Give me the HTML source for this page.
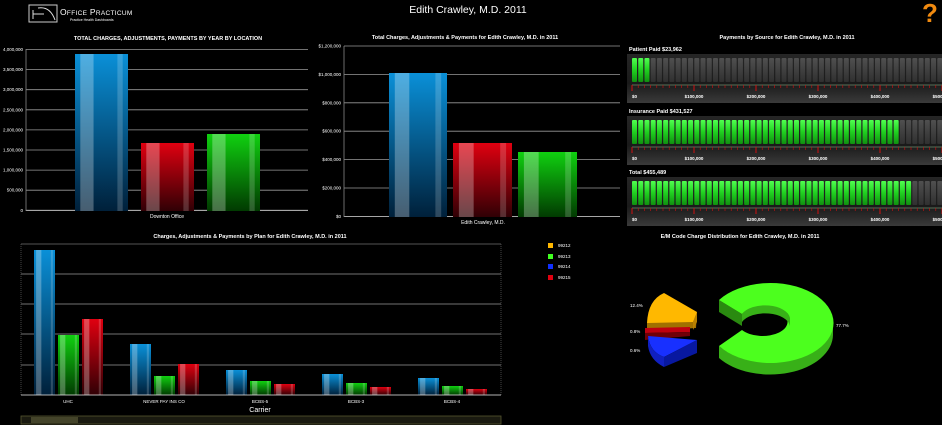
<!DOCTYPE html>
<html><head><meta charset="utf-8"><style>
html,body{margin:0;padding:0;background:#000;width:942px;height:425px;overflow:hidden}
svg{display:block}
text{font-family:"Liberation Sans",sans-serif;fill:#fff}
</style></head><body>
<svg id="s" width="942" height="425" viewBox="0 0 942 425" xmlns="http://www.w3.org/2000/svg">
<defs>
<linearGradient id="gb" x1="0" y1="0" x2="0" y2="1"><stop offset="0" stop-color="#0a90d8"/><stop offset="1" stop-color="#00203a"/></linearGradient>
<linearGradient id="gr" x1="0" y1="0" x2="0" y2="1"><stop offset="0" stop-color="#e00010"/><stop offset="1" stop-color="#300005"/></linearGradient>
<linearGradient id="gg" x1="0" y1="0" x2="0" y2="1"><stop offset="0" stop-color="#10d010"/><stop offset="1" stop-color="#013a01"/></linearGradient>
<linearGradient id="seg" x1="0" y1="0" x2="0" y2="1"><stop offset="0" stop-color="#50ff50"/><stop offset="0.5" stop-color="#20d020"/><stop offset="1" stop-color="#109010"/></linearGradient>
<linearGradient id="segd" x1="0" y1="0" x2="0" y2="1"><stop offset="0" stop-color="#505050"/><stop offset="1" stop-color="#303030"/></linearGradient>
<linearGradient id="gbox" x1="0" y1="0" x2="0" y2="1"><stop offset="0" stop-color="#262626"/><stop offset="0.6" stop-color="#1a1a1a"/><stop offset="1" stop-color="#3a3a3a"/></linearGradient>
</defs>
<!-- header -->
<rect x="29" y="5" width="28" height="17" fill="none" stroke="#ccc" stroke-width="1"/>
<path d="M33 19 L33 10 M33 14 L44 14 M38 8 Q50 6 55 20" stroke="#ddd" fill="none" stroke-width="1"/>
<text x="60" y="15" font-size="8.5" letter-spacing="0.3">O<tspan font-size="6.5">FFICE</tspan> P<tspan font-size="6.5">RACTICUM</tspan></text>
<text x="70" y="21" font-size="3.5" fill="#ccc">Practice Health Dashboards</text>
<text x="468" y="13" font-size="10.5" text-anchor="middle">Edith Crawley, M.D. 2011</text>
<text x="930" y="22" font-size="26" font-weight="bold" text-anchor="middle" style="fill:#f08a10">?</text>

<!-- chart1 -->
<text x="168" y="40" font-size="5.5" font-weight="bold" text-anchor="middle">TOTAL CHARGES, ADJUSTMENTS, PAYMENTS BY YEAR BY LOCATION</text>
<g id="c1"></g>
<text x="167" y="218" font-size="5" text-anchor="middle">Downton Office</text>
<!-- chart2 -->
<text x="465" y="39" font-size="5.5" font-weight="bold" text-anchor="middle">Total Charges, Adjustments &amp; Payments for Edith Crawley, M.D. in 2011</text>
<g id="c2"></g>
<text x="483" y="224" font-size="5" text-anchor="middle">Edith Crawley, M.D.</text>
<!-- gauges -->
<text x="787" y="39" font-size="5.5" font-weight="bold" text-anchor="middle">Payments by Source for Edith Crawley, M.D. in 2011</text>
<g id="c3"></g>
<!-- chart4 -->
<text x="250" y="238" font-size="5.5" font-weight="bold" text-anchor="middle">Charges, Adjustments &amp; Payments by Plan for Edith Crawley, M.D. in 2011</text>
<g id="c4"></g>
<text x="260" y="412" font-size="7" text-anchor="middle">Carrier</text>
<g font-size="4.5">
<rect x="548" y="243" width="5" height="5" fill="#ffb800"/><text x="558" y="247">99212</text>
<rect x="548" y="254" width="5" height="5" fill="#40ff20"/><text x="558" y="258">99213</text>
<rect x="548" y="264" width="5" height="5" fill="#1030ff"/><text x="558" y="268">99214</text>
<rect x="548" y="275" width="5" height="5" fill="#e00010"/><text x="558" y="279">99215</text>
</g>
<!-- scrollbar -->
<rect x="21" y="416" width="480" height="8" fill="#1a1a10" stroke="#555530" stroke-width="0.8"/>
<rect x="31" y="417" width="47" height="6" fill="#44442a"/>
<!-- pie -->
<text x="740" y="238" font-size="5.5" font-weight="bold" text-anchor="middle">E/M Code Charge Distribution for Edith Crawley, M.D. in 2011</text>
<g>
<!-- green donut side -->
<path d="M719 346 A63 40 0 0 0 833 323 L833 335 A63 40 0 0 1 719 358 Z" fill="#38b018"/>
<path d="M719 300 L742 314 L742 326 L719 312 Z" fill="#2a8a10"/>
<path d="M719 300 A63 40 0 1 1 719 346 L742 330 A25 14 0 1 0 742 314 Z" fill="#4cff1e"/>
<path d="M742 314 A25 14 0 0 1 790 318 L790 326 A25 14 0 0 0 742 322 Z" fill="#38b018"/>
<!-- yellow -->
<path d="M647 323 L647 331 L696 328 L697 312 Z" fill="#a07000"/>
<path d="M647 323 Q648 300 664 293 L697 312 L693 322 Z" fill="#ffb800"/>
<path d="M693 322 L697 312 L697 322 L693 330 Z" fill="#b88000"/>
<!-- red -->
<path d="M645 328 L690 327 L690 332 L645 333 Z" fill="#c00010"/>
<path d="M645 333 L690 332 L690 336 L645 340 Z" fill="#700008"/>
<!-- blue -->
<path d="M648 336 L697 340 L664 357 Q650 352 648 336 Z" fill="#1830ff"/>
<path d="M664 357 L697 340 L697 353 L664 367 Z" fill="#0818a0"/>
<path d="M648 336 Q650 352 664 357 L664 367 Q650 360 648 346 Z" fill="#1020c0"/>
</g>
<g font-size="4.5">
<text x="630" y="307">12.4%</text><text x="630" y="333">0.8%</text><text x="630" y="352">0.6%</text><text x="836" y="327">77.7%</text>
</g>
</svg>
<script>
var NS="http://www.w3.org/2000/svg";
function el(p,t,a,txt){var e=document.createElementNS(NS,t);for(var k in a)e.setAttribute(k,a[k]);if(txt!=null)e.textContent=txt;p.appendChild(e);return e;}
function bar(g,x,w,top,bot,grad){
 el(g,'rect',{x:x,y:top,width:w,height:bot-top,fill:'url(#'+grad+')'});
 el(g,'rect',{x:x+w*0.1,y:top,width:w*0.25,height:bot-top,fill:'#fff','fill-opacity':0.28});
 el(g,'rect',{x:x+w*0.8,y:top,width:w*0.1,height:bot-top,fill:'#fff','fill-opacity':0.18});
}
var g=document.getElementById('c1');
var labs=['4,000,000','3,500,000','3,000,000','2,500,000','2,000,000','1,500,000','1,000,000','500,000','0'];
for(var i=0;i<9;i++){var y=49.5+i*20.1;el(g,'line',{x1:26,x2:308,y1:y,y2:y,stroke:i==8?'#ddd':'#999','stroke-width':0.8});el(g,'text',{x:23,y:y+1.5,'font-size':4.5,'text-anchor':'end'},labs[i]);}
el(g,'line',{x1:26,x2:26,y1:49,y2:211,stroke:'#888','stroke-width':0.8});
bar(g,75,53,54,211,'gb');bar(g,141,53,143,211,'gr');bar(g,207,53,134,211,'gg');
g=document.getElementById('c2');
labs=['$1,200,000','$1,000,000','$800,000','$600,000','$400,000','$200,000','$0'];
for(i=0;i<7;i++){var y=46+i*28.4;el(g,'line',{x1:344,x2:620,y1:y,y2:y,stroke:i==6?'#ddd':'#999','stroke-width':0.8});el(g,'text',{x:341,y:y+1.5,'font-size':4.5,'text-anchor':'end'},labs[i]);}
el(g,'line',{x1:344,x2:344,y1:46,y2:217,stroke:'#888','stroke-width':0.8});
bar(g,389,58,73,217,'gb');bar(g,453,59,143,217,'gr');bar(g,518,59,152,217,'gg');
g=document.getElementById('c3');
var gs=[['Patient Paid   $23,962',48,3],['Insurance Paid   $431,527',110,43],['Total   $455,489',171,45]];
gs.forEach(function(d){
 var y0=d[1];
 el(g,'text',{x:629,y:y0+3,'font-size':5.5,'font-weight':'bold'},d[0]);
 el(g,'rect',{x:627,y:y0+6,width:315,height:49,fill:'url(#gbox)'});
 for(var k=0;k<50;k++){var x=632+k*6.23;el(g,'rect',{x:x,y:y0+10,width:5,height:24,rx:1,fill:k<d[2]?'url(#seg)':'url(#segd)'});}
 el(g,'line',{x1:632,x2:942,y1:y0+37,y2:y0+37,stroke:'#6a8a6a','stroke-width':0.8});
 for(var k=0;k<=50;k++){var x=632+k*6.2;var big=k%10==0;el(g,'line',{x1:x,x2:x,y1:y0+37,y2:y0+(big?43:40),stroke:'#d01010','stroke-width':big?1:0.6});}
 var tl=['$0','$100,000','$200,000','$300,000','$400,000','$500,000'];
 for(var k=0;k<6;k++)el(g,'text',{x:632+k*62,y:y0+50,'font-size':4.5,'font-weight':'bold','text-anchor':k==0?'start':'middle'},tl[k]);
});
g=document.getElementById('c4');
el(g,'line',{x1:21,x2:501,y1:244,y2:244,stroke:'#444','stroke-width':1.2});
[274,304,334,365].forEach(function(y){el(g,'line',{x1:21,x2:501,y1:y,y2:y,stroke:'#999','stroke-width':0.8});});
el(g,'line',{x1:21,x2:21,y1:244,y2:395,stroke:'#555','stroke-width':0.8,'stroke-dasharray':'1,1'});
el(g,'line',{x1:501,x2:501,y1:244,y2:395,stroke:'#555','stroke-width':0.8,'stroke-dasharray':'1,1'});
var grp=[['UHC',250,335,319],['NEVER PAY INS CO',344,376,364],['BCBS-5',370,381,384],['BCBS-3',374,383,387],['BCBS-4',378,386,389]];
grp.forEach(function(d,j){var x=34+j*96;bar(g,x,21,d[1],395,'gb');bar(g,x+24,21,d[2],395,'gg');bar(g,x+48,21,d[3],395,'gr');
 el(g,'text',{x:x+34,y:403,'font-size':4.5,'text-anchor':'middle'},d[0]);});
el(g,'line',{x1:21,x2:501,y1:395,y2:395,stroke:'#eee','stroke-width':0.8});
</script>
</body></html>
